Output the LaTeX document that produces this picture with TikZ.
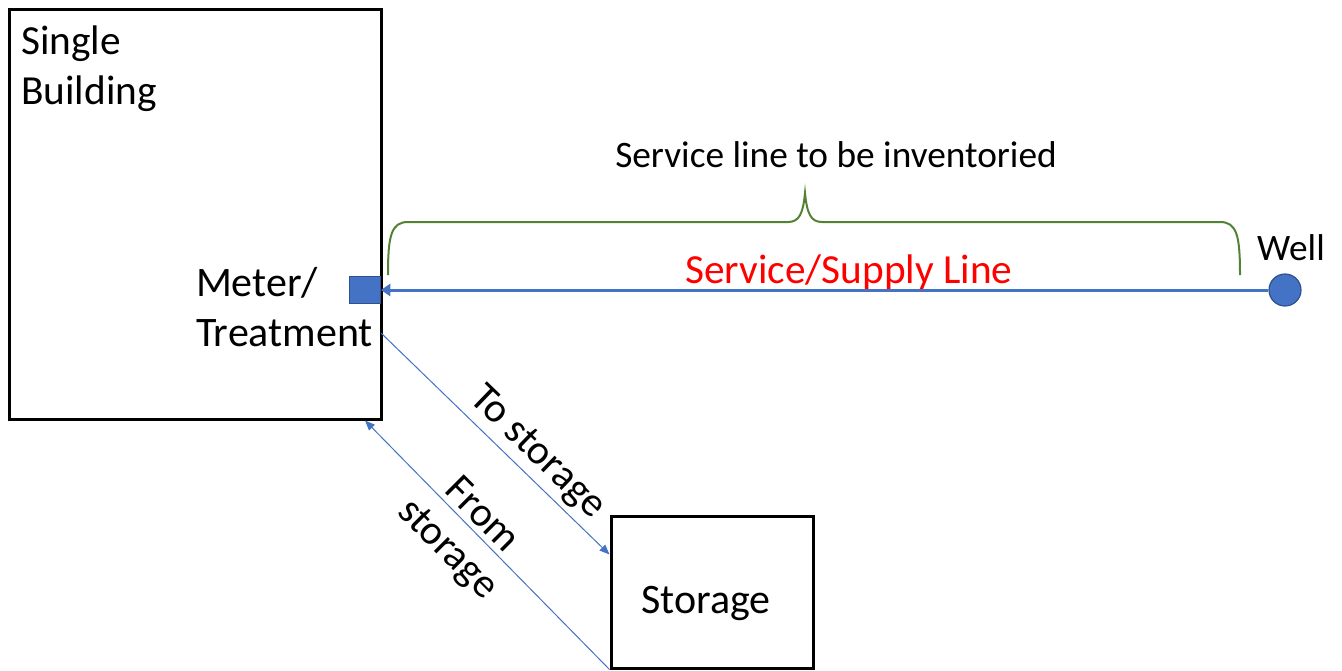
\documentclass[tikz,border=0pt]{standalone}
\usepackage{fontspec}
\setmainfont{Carlito}
\usetikzlibrary{arrows.meta,calc,positioning}

\definecolor{lineblue}{HTML}{4472C4}
\definecolor{edgeblue}{HTML}{2F528F}
\definecolor{bracegreen}{HTML}{548235}

\begin{document}
\begin{tikzpicture}[x=0.75pt,y=-0.75pt,
    box/.style={draw,line width=2.25pt,inner sep=0pt},
    label/.style={inner sep=0pt,font=\fontsize{31}{37.5}\selectfont},
    flow/.style={lineblue,line width=0.75pt,-{Triangle[length=7.5pt,width=6pt]}}]
  \useasboundingbox (0,0) rectangle (1342,671);
  \path
  node[box,minimum width=279pt,minimum height=307.5pt] (building) at (195,214) {}
  node[box,minimum width=151.5pt,minimum height=114pt] (storage) at (712,592) {}
  node[draw=edgeblue,fill=lineblue,line width=0.9pt,minimum width=23pt,minimum height=20pt,inner sep=0pt] (meter) at (365,290) {}
  node[circle,draw=edgeblue,fill=lineblue,line width=0.9pt,minimum size=24pt,inner sep=0pt] (well) at (1285,290) {}
  ;
  \path
  node[label,align=left,anchor=north west] (bldtext) at (21,26) {Single\\Building}
  node[label,align=left,font=\fontsize{31.5}{37.5}\selectfont] (metertext) at (284.5,307) {Meter/\\Treatment}
  node[label,font=\fontsize{31.5}{37.5}\selectfont] (storagetext) at (706,603) {Storage}
  node[label,font=\fontsize{28}{34}\selectfont] (welltext) at (1291,248) {Well}
  node[label,font=\fontsize{28}{34}\selectfont] (inventory) at (836,155) {Service line to be inventoried}
  node[label,text=red] (supply) at (849,272) {Service/Supply Line}
  node[label,rotate=-44] (tostore) at (537,453) {To storage}
  node[label,rotate=-45,align=center,font=\fontsize{31}{36}\selectfont] (fromstore) at (464,533) {From\\storage}
  ;
  % supply line from the well
  \draw[lineblue,line width=2.25pt,-{Triangle[length=7pt,width=9pt]}] (well) -- (meter);
  % pipes to and from storage
  \coordinate (tostart) at (381,333);
  \draw[flow] (tostart) -- ($(storage.north west)+(0,40)$);
  \draw[flow] (storage.south west) -- (meter |- building.south);
  % brace over the service line
  \coordinate (bl) at (388,275);
  \coordinate (br) at (1240,275);
  \draw[bracegreen,line width=1.5pt]
    (bl) .. controls (388,236) and (391,222) .. (408,222) -- (788,222)
    .. controls (799,222) and (803,214) .. (805,193)
    .. controls (807,214) and (811,222) .. (822,222) -- (1220,222)
    .. controls (1237,222) and (1240,236) .. (br);
\end{tikzpicture}
\end{document}
